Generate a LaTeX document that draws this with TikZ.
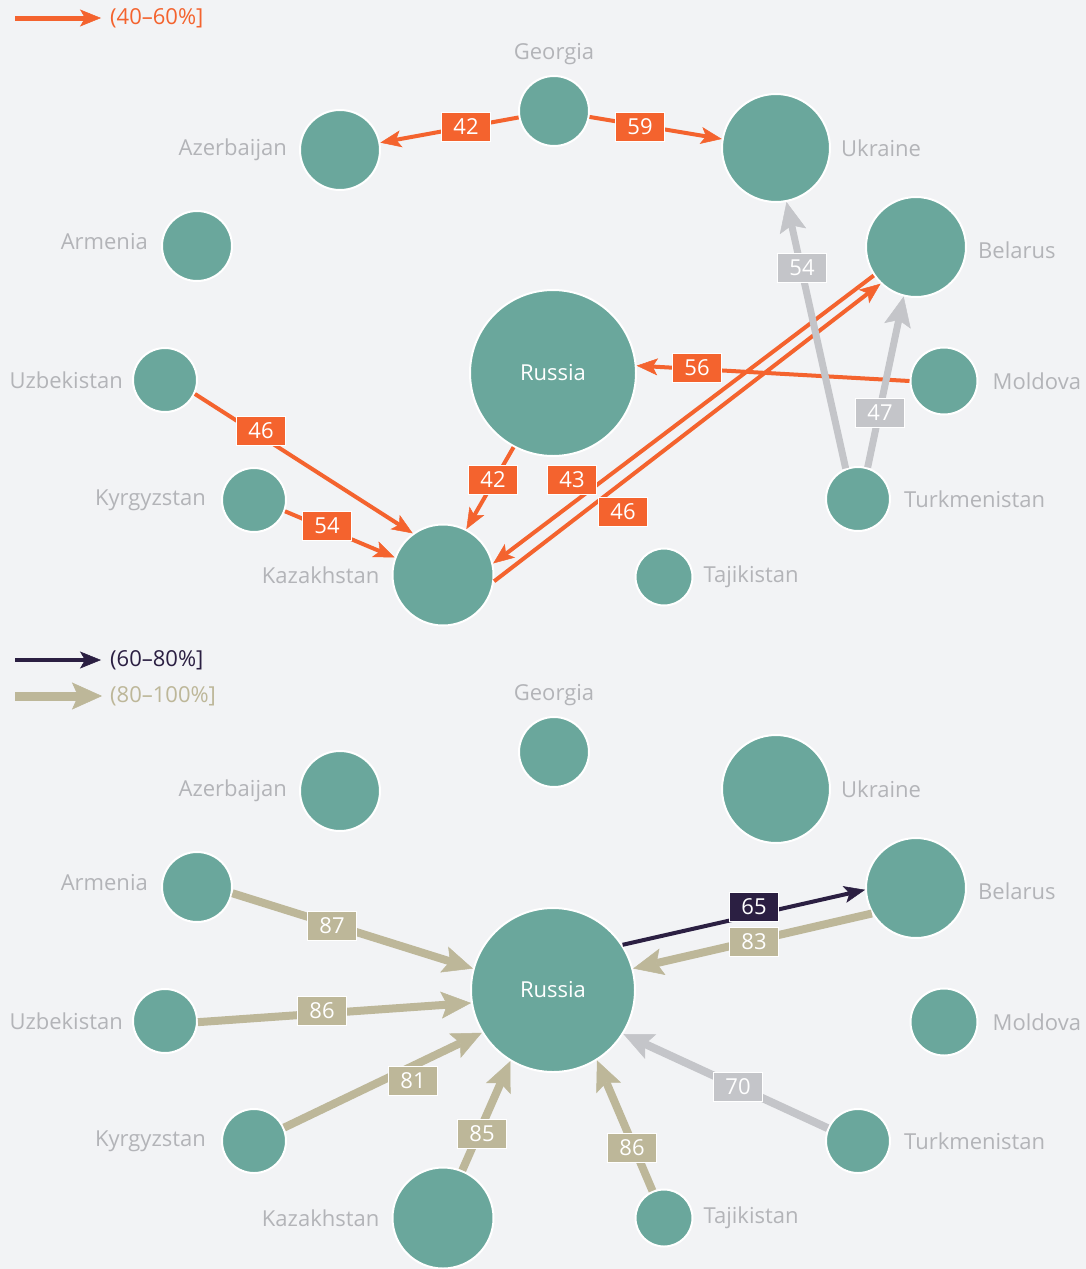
\documentclass[tikz,border=0pt]{standalone}
\usepackage{fontspec}
\setmainfont{Open Sans}
\usetikzlibrary{arrows.meta,positioning}

\definecolor{bgcol}{HTML}{F2F3F5}
\definecolor{circcol}{HTML}{6AA79C}
\definecolor{orangecol}{HTML}{F4632E}
\definecolor{greycol}{HTML}{C4C5C9}
\definecolor{tancol}{HTML}{BDB799}
\definecolor{darkcol}{HTML}{2B1F42}
\definecolor{namecol}{HTML}{B3B4B8}

\newcommand{\cfont}{\fontsize{22}{26}\selectfont}

\tikzset{
  country/.style={circle, fill=circcol, draw=white, line width=2pt, inner sep=0pt, minimum size=#1},
  cname/.style={text=namecol, font=\cfont, inner sep=0pt},
  numbox/.style={fill=#1, draw=white, line width=1.5pt, text=white, minimum width=49pt, minimum height=29pt, inner sep=0pt, font=\cfont},
  thin flow/.style={draw=#1, line width=4pt, -{Stealth[length=21pt, width=17pt, inset=5pt, line width=0.5pt]}},
  wide flow/.style={draw=#1, line width=8pt, -{Stealth[length=30pt, width=27pt, inset=6pt, line width=0.5pt]}},
  legtext/.style={anchor=west, inner sep=0pt, font=\cfont, text=#1}
}

\begin{document}
\begin{tikzpicture}[x=1pt, y=-1pt]
  %%%%% BACKGROUND %%%%%
  \fill[bgcol] (0,0) rectangle (1086,1269);
  \useasboundingbox (0,0) rectangle (1086,1269);

  %%%%% TOP PANEL: (40-60%] %%%%%
  \coordinate (legA) at (15,18);
  \coordinate (legAend) at (101,18);
  \draw[thin flow=orangecol, line width=5pt] (legA) -- (legAend);
  \node[legtext=orangecol] (legAtext) at (110,18) {(40--60\%]};

  \node[country=70pt] (tGeo) at (554,111) {};
  \node[country=80pt] (tAze) at (340,150) {};
  \node[country=108pt] (tUkr) at (776,148) {};
  \node[country=70pt] (tArm) at (197,246) {};
  \node[country=100pt] (tBel) at (916,247) {};
  \node[country=166pt, text=white, font=\cfont] (tRus) at (553,373) {Russia};
  \node[country=64pt] (tUzb) at (165,380) {};
  \node[country=67pt] (tMol) at (944,381) {};
  \node[country=64pt] (tKyr) at (254,500) {};
  \node[country=64pt] (tTur) at (858,499) {};
  \node[country=101pt] (tKaz) at (443,575) {};
  \node[country=57pt] (tTaj) at (664,577) {};

  \node[cname, above=10pt of tGeo] (tGeoName) {Georgia};
  \node[cname, left=12pt of tAze] (tAzeName) {Azerbaijan};
  \node[cname, right=10pt of tUkr] (tUkrName) {Ukraine};
  \node[cname, left=13pt of tArm, yshift=4pt] (tArmName) {Armenia};
  \node[cname, right=11pt of tBel, yshift=-3pt] (tBelName) {Belarus};
  \node[cname, left=9pt of tUzb] (tUzbName) {Uzbekistan};
  \node[cname, right=14pt of tMol] (tMolName) {Moldova};
  \node[cname, left=15pt of tKyr] (tKyrName) {Kyrgyzstan};
  \node[cname, right=13pt of tTur] (tTurName) {Turkmenistan};
  \node[cname, left=12pt of tKaz] (tKazName) {Kazakhstan};
  \node[cname, right=10pt of tTaj] (tTajName) {Tajikistan};

  \draw[thin flow=orangecol] (tGeo) -- (tAze);
  \draw[thin flow=orangecol] (tGeo) -- (tUkr);
  \draw[thin flow=orangecol] (tUzb.-25) -- (tKaz.126);
  \draw[thin flow=orangecol] (tKyr.-20) -- (tKaz.160);
  \draw[thin flow=orangecol] (tRus.242) -- (tKaz.63);
  \draw[thin flow=orangecol] (tBel.214) -- (tKaz.13);
  \draw[thin flow=orangecol] (tKaz.-7) -- (tBel.226);
  \draw[thin flow=orangecol] (tMol.west) -- (tRus.5);
  \draw[wide flow=greycol, line width=7pt] (tTur.112) -- (tUkr.281);
  \draw[wide flow=greycol, line width=7pt] (tTur.73) -- (tBel.256);

  \node[numbox=orangecol] (tGeoAze) at (466,127) {42};
  \node[numbox=orangecol] (tGeoUkr) at (640,127) {59};
  \node[numbox=orangecol] (tUzbKaz) at (261,431) {46};
  \node[numbox=orangecol] (tKyrKaz) at (327,526) {54};
  \node[numbox=orangecol] (tRusKaz) at (493,480) {42};
  \node[numbox=orangecol] (tBelKaz) at (572,480) {43};
  \node[numbox=orangecol] (tKazBel) at (623,512) {46};
  \node[numbox=orangecol] (tMolRus) at (697,368) {56};
  \node[numbox=greycol] (tTurUkr) at (802,268) {54};
  \node[numbox=greycol] (tTurBel) at (880,413) {47};

  %%%%% BOTTOM PANEL: (60-80%] and (80-100%] %%%%%
  \coordinate (legB) at (15,660);
  \coordinate (legBend) at (101,660);
  \draw[thin flow=darkcol] (legB) -- (legBend);
  \node[legtext=darkcol] (legBtext) at (110,660) {(60--80\%]};
  \coordinate (legC) at (15,696);
  \coordinate (legCend) at (102,696);
  \draw[wide flow=tancol, line width=9pt] (legC) -- (legCend);
  \node[legtext=tancol] (legCtext) at (110,696) {(80--100\%]};

  \node[country=70pt] (bGeo) at (554,752) {};
  \node[country=80pt] (bAze) at (340,791) {};
  \node[country=108pt] (bUkr) at (776,789) {};
  \node[country=70pt] (bArm) at (197,887) {};
  \node[country=100pt] (bBel) at (916,888) {};
  \node[country=164pt, text=white, font=\cfont] (bRus) at (553,990) {Russia};
  \node[country=64pt] (bUzb) at (165,1021) {};
  \node[country=67pt] (bMol) at (944,1022) {};
  \node[country=64pt] (bKyr) at (254,1141) {};
  \node[country=64pt] (bTur) at (858,1141) {};
  \node[country=101pt] (bKaz) at (443,1218) {};
  \node[country=57pt] (bTaj) at (664,1218) {};

  \node[cname, above=10pt of bGeo] (bGeoName) {Georgia};
  \node[cname, left=12pt of bAze] (bAzeName) {Azerbaijan};
  \node[cname, right=10pt of bUkr] (bUkrName) {Ukraine};
  \node[cname, left=13pt of bArm, yshift=4pt] (bArmName) {Armenia};
  \node[cname, right=11pt of bBel, yshift=-3pt] (bBelName) {Belarus};
  \node[cname, left=9pt of bUzb] (bUzbName) {Uzbekistan};
  \node[cname, right=14pt of bMol] (bMolName) {Moldova};
  \node[cname, left=15pt of bKyr] (bKyrName) {Kyrgyzstan};
  \node[cname, right=13pt of bTur] (bTurName) {Turkmenistan};
  \node[cname, left=12pt of bKaz] (bKazName) {Kazakhstan};
  \node[cname, right=10pt of bTaj] (bTajName) {Tajikistan};

  \draw[wide flow=tancol] (bArm.-10) -- (bRus.165);
  \draw[wide flow=tancol] (bUzb.-2) -- (bRus.189);
  \draw[wide flow=tancol] (bKyr.24) -- (bRus.211);
  \draw[wide flow=tancol] (bKaz.68) -- (bRus.239);
  \draw[wide flow=tancol] (bTaj.113) -- (bRus.302);
  \draw[wide flow=greycol] (bTur.157) -- (bRus.328);
  \draw[wide flow=tancol] (bBel.210) -- (bRus.15);
  \draw[thin flow=darkcol] (bRus.33) -- (bBel.182);

  \node[numbox=tancol] (bArmRus) at (332,926) {87};
  \node[numbox=tancol] (bUzbRus) at (322,1011) {86};
  \node[numbox=tancol] (bKyrRus) at (413,1081) {81};
  \node[numbox=tancol] (bKazRus) at (482,1134) {85};
  \node[numbox=tancol] (bTajRus) at (632,1148) {86};
  \node[numbox=greycol] (bTurRus) at (738,1087) {70};
  \node[numbox=darkcol] (bRusBel) at (754,907) {65};
  \node[numbox=tancol] (bBelRus) at (754,942) {83};
\end{tikzpicture}
\end{document}
